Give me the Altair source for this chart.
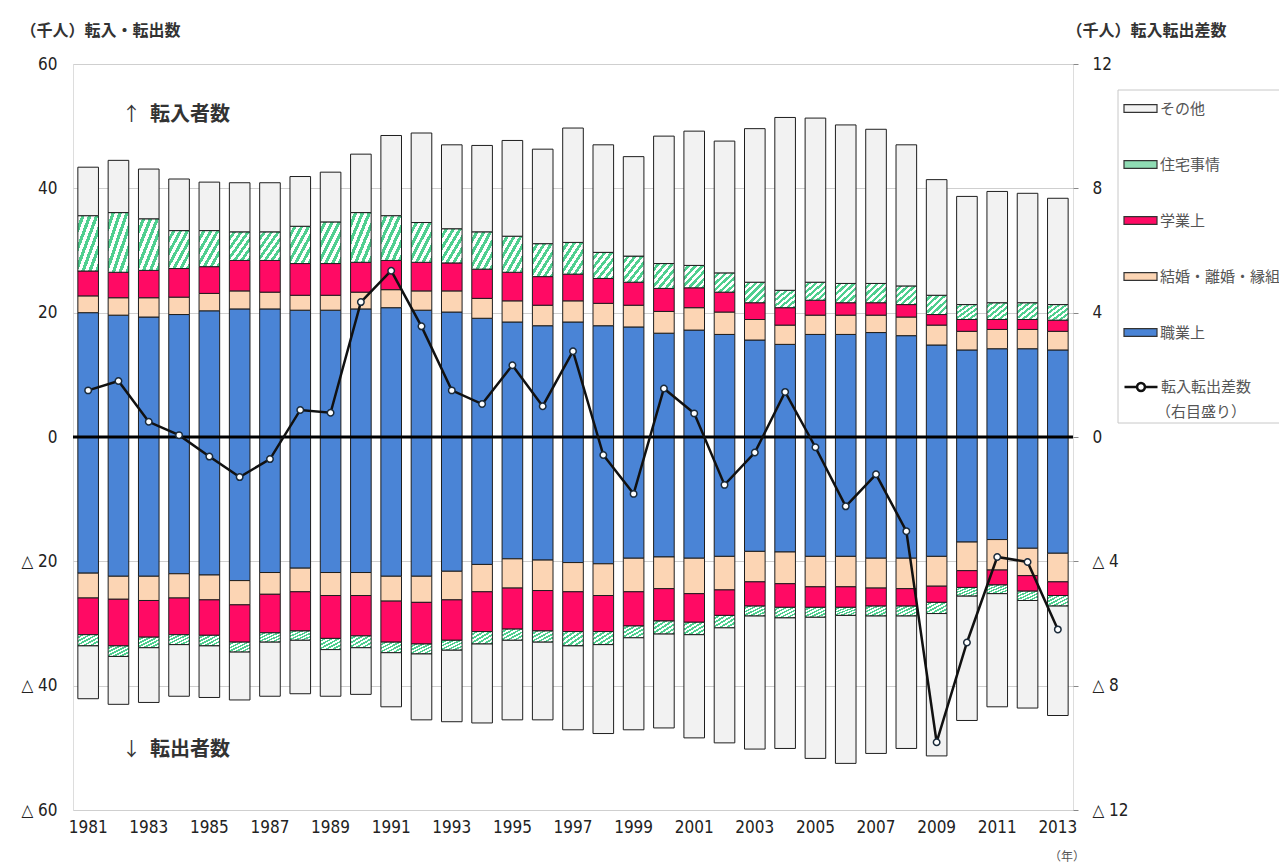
import altair as alt
import pandas as pd

# ---------------- data (thousand persons) ----------------
years = list(range(1981, 2014))
cats = ["職業上", "結婚・離婚・縁組", "学業上", "住宅事情", "その他"]  # stacking order from zero
legend_order = ["その他", "住宅事情", "学業上", "結婚・離婚・縁組", "職業上"]

in_job = [20.0, 19.6, 19.3, 19.7, 20.3, 20.6, 20.6, 20.4, 20.4, 20.6, 20.8, 20.4, 20.1, 19.1, 18.5, 17.9, 18.5,
          17.9, 17.7, 16.7, 17.2, 16.5, 15.6, 14.9, 16.5, 16.5, 16.8, 16.3, 14.8, 14.0, 14.2, 14.2, 14.0]
in_marr = [2.7, 2.8, 3.1, 2.8, 2.8, 2.9, 2.7, 2.4, 2.4, 2.7, 2.9, 3.1, 3.4, 3.2, 3.4, 3.3, 3.4,
           3.6, 3.5, 3.5, 3.6, 3.6, 3.3, 3.1, 3.1, 3.1, 2.8, 3.0, 3.2, 3.0, 3.1, 3.1, 3.0]
in_study = [4.0, 4.1, 4.4, 4.6, 4.3, 4.9, 5.1, 5.1, 5.1, 4.8, 4.7, 4.6, 4.5, 4.7, 4.6, 4.6, 4.3,
            4.0, 3.7, 3.7, 3.2, 3.2, 2.7, 2.8, 2.4, 2.0, 2.0, 2.0, 1.7, 1.9, 1.6, 1.6, 1.8]
in_house = [8.9, 9.6, 8.3, 6.1, 5.8, 4.6, 4.6, 6.0, 6.7, 8.0, 7.2, 6.4, 5.5, 6.0, 5.8, 5.3, 5.1,
            4.2, 4.2, 4.0, 3.6, 3.1, 3.3, 2.8, 2.9, 3.1, 3.1, 3.0, 3.1, 2.4, 2.7, 2.7, 2.5]
in_other = [7.8, 8.4, 8.0, 8.3, 7.8, 7.9, 7.9, 8.0, 8.0, 9.4, 12.9, 14.4, 13.5, 13.9, 15.4, 15.2, 18.4,
            17.3, 16.0, 20.5, 21.6, 21.2, 24.7, 27.8, 26.4, 25.5, 24.8, 22.7, 18.6, 17.4, 17.9, 17.6, 17.1]

out_job = [21.9, 22.4, 22.4, 22.0, 22.2, 23.1, 21.8, 21.1, 21.8, 21.8, 22.4, 22.4, 21.6, 20.5, 19.6, 19.8, 20.2,
           20.4, 19.5, 19.3, 19.5, 19.2, 18.4, 18.5, 19.2, 19.2, 19.5, 19.5, 19.2, 16.9, 16.5, 17.9, 18.7]
out_marr = [4.0, 3.7, 3.9, 3.9, 4.0, 3.9, 3.5, 3.8, 3.7, 3.7, 4.0, 4.2, 4.6, 4.4, 4.7, 4.9, 4.7,
            5.1, 5.4, 5.1, 5.7, 5.4, 4.9, 5.1, 4.9, 4.9, 4.8, 4.9, 4.8, 4.6, 4.9, 4.4, 4.6]
out_study = [5.9, 7.5, 5.9, 5.9, 5.7, 6.0, 6.2, 6.3, 6.9, 6.5, 6.6, 6.7, 6.5, 6.4, 6.6, 6.5, 6.4,
             5.8, 5.5, 5.2, 4.6, 4.1, 3.9, 3.8, 3.3, 3.3, 2.9, 2.8, 2.6, 2.7, 2.4, 2.5, 2.2]
out_house = [1.8, 1.7, 1.7, 1.6, 1.7, 1.6, 1.5, 1.5, 1.8, 1.9, 1.7, 1.6, 1.6, 2.0, 1.8, 1.8, 2.3,
             2.1, 1.9, 2.1, 2.0, 2.0, 1.6, 1.7, 1.6, 1.3, 1.6, 1.6, 1.8, 1.4, 1.4, 1.5, 1.7]
out_other = [8.5, 7.7, 8.8, 8.3, 8.3, 7.7, 8.7, 8.6, 7.5, 7.5, 8.7, 10.6, 11.5, 12.7, 12.8, 12.5, 13.5,
             14.3, 14.8, 15.1, 16.6, 18.5, 21.4, 21.0, 22.7, 23.8, 22.1, 21.3, 22.9, 20.0, 18.2, 17.3, 17.6]

net = [1.5, 1.8, 0.49, 0.06, -0.63, -1.29, -0.71, 0.87, 0.78, 4.34, 5.35, 3.56, 1.5, 1.06, 2.31, 0.99, 2.76,
       -0.58, -1.83, 1.56, 0.76, -1.54, -0.5, 1.45, -0.33, -2.23, -1.2, -3.03, -9.82, -6.61, -3.86, -4.02, -6.19]

left_ticks = [-60, -40, -20, 0, 20, 40, 60]
right_ticks = [-12, -8, -4, 0, 4, 8, 12]
year_labels = [y for y in years if y % 2 == 1]

# ---------------- tables ----------------
in_series = [in_job, in_marr, in_study, in_house, in_other]
out_series = [out_job, out_marr, out_study, out_house, out_other]
rows = []
for k, c in enumerate(cats):
    for i, y in enumerate(years):
        rows.append({"year": y, "cat": c, "ord": k, "value": in_series[k][i]})
        rows.append({"year": y, "cat": c, "ord": k, "value": -out_series[k][i]})
bars_df = pd.DataFrame(rows)
net_df = pd.DataFrame({"year": years, "net": net})

# ---------------- styling ----------------
FONT_JP = "Noto Sans CJK JP"
FONT_NUM = "Liberation Sans Narrow, DejaVu Sans Condensed, Liberation Sans, sans-serif"
colors = {"その他": "#f2f2f2", "住宅事情": "#8fdcb4", "学業上": "#ff0a64",
          "結婚・離婚・縁組": "#fcd5b4", "職業上": "#4a84d6"}

n_str = 6
stops = []
for i in range(n_str):
    a = i / n_str
    b = (i + 0.5) / n_str
    c = (i + 1) / n_str
    stops += [{"offset": a, "color": "#ffffff"}, {"offset": b, "color": "#ffffff"},
              {"offset": b, "color": "#4fcf8f"}, {"offset": c, "color": "#4fcf8f"}]
hatch = {"gradient": "linear", "x1": 0, "y1": 0, "x2": 1, "y2": 1, "stops": stops}

num_label = "datum.value < 0 ? '△ ' + format(-datum.value, 'd') : format(datum.value, 'd')"

x_enc = alt.X("year:O",
              scale=alt.Scale(paddingInner=0.32, paddingOuter=0.16),
              axis=alt.Axis(title=None, values=year_labels, labelAngle=0, ticks=False, domain=False,
                            labelFont=FONT_NUM, labelFontSize=17, labelColor="#222", labelPadding=9,
                            grid=False))

bars = alt.Chart(bars_df).mark_bar(stroke="#1e1e1e", strokeWidth=1).encode(
    x=x_enc,
    y=alt.Y("value:Q", stack="zero",
            scale=alt.Scale(domain=[-60, 60], nice=False),
            axis=alt.Axis(values=left_ticks, ticks=False, domain=False, grid=True,
                          gridColor="#cfcfcf", gridWidth=1, labelExpr=num_label,
                          labelFont=FONT_NUM, labelFontSize=17, labelColor="#222", labelPadding=16,
                          title="（千人）転入・転出数", titleAngle=0, titleX=-53, titleY=-34,
                          titleAlign="left", titleBaseline="middle", titleFont=FONT_JP,
                          titleFontSize=16, titleFontWeight="bold", titleColor="#333")),
    fill=alt.condition("datum.cat === '住宅事情'", alt.value(hatch),
                       alt.Fill("cat:N",
                                scale=alt.Scale(domain=legend_order, range=[colors[c] for c in legend_order]),
                                legend=alt.Legend(title=None, orient="none", legendX=1050, legendY=27,
                                                  symbolType="M-1,-0.23H1V0.23H-1Z", symbolSize=1089,
                                                  symbolStrokeColor="#333", symbolStrokeWidth=1.2,
                                                  symbolOpacity=1,
                                                  labelFont=FONT_JP, labelFontSize=15, labelColor="#555",
                                                  rowPadding=30, padding=0, labelOffset=2,
                                                  labelLimit=200))),
    order=alt.Order("ord:Q"),
)

zero = alt.Chart(pd.DataFrame({"z": [0]})).mark_rule(color="#000000", strokeWidth=3).encode(
    y=alt.Y("z:Q"))

left_layer = alt.layer(bars, zero)

line_legend_path = "M-1,0H-0.24M0.24,0H1M-0.24,0A0.24,0.24,0,1,1,0.24,0A0.24,0.24,0,1,1,-0.24,0"

line = alt.Chart(net_df).transform_calculate(lab="'転入転出差数'").mark_line(strokeWidth=2.5).encode(
    x=alt.X("year:O"),
    y=alt.Y("net:Q", scale=alt.Scale(domain=[-12, 12], nice=False),
            axis=alt.Axis(orient="right", values=right_ticks, ticks=True, tickSize=5, tickColor="#888",
                          domain=False, grid=False, labelExpr=num_label,
                          labelFont=FONT_NUM, labelFontSize=17, labelColor="#222", labelPadding=14,
                          title="（千人）転入転出差数", titleAngle=0, titleX=-7, titleY=-34,
                          titleAlign="left", titleBaseline="middle", titleFont=FONT_JP,
                          titleFontSize=16, titleFontWeight="bold", titleColor="#333")),
    stroke=alt.Stroke("lab:N", scale=alt.Scale(domain=["転入転出差数"], range=["#111111"]),
                      legend=alt.Legend(title=None, orient="none", legendX=1050, legendY=305,
                                        symbolType=line_legend_path, symbolSize=1089,
                                        symbolStrokeWidth=2.5, symbolFillColor="white",
                                        labelFont=FONT_JP, labelFontSize=15, labelColor="#555",
                                        padding=0, labelOffset=2)),
)
points = alt.Chart(net_df).mark_point(filled=True, fill="white", stroke="#1a2a3a", strokeWidth=1.5,
                                      size=42, opacity=1).encode(
    x=alt.X("year:O"),
    y=alt.Y("net:Q"),
)
right_layer = alt.layer(line, points)

one = pd.DataFrame({"a": [0]})
frame = alt.Chart(one).mark_rect(fillOpacity=0, stroke="#c8c8c8", strokeWidth=1).encode(
    x=alt.value(1045), x2=alt.value(1400), y=alt.value(26), y2=alt.value(359))


def label(txt, x, y, size=15, color="#333", align="left", font=FONT_JP, weight="normal"):
    return alt.Chart(pd.DataFrame({"t": [txt]})).mark_text(
        align=align, baseline="middle", font=font, fontSize=size, color=color, fontWeight=weight
    ).encode(x=alt.value(x), y=alt.value(y), text="t:N")


texts = [
    label("↑", 49, 51, size=19, color="#333"),
    label("転入者数", 77, 51, size=20, color="#333", weight="bold"),
    label("↓", 49, 686, size=19, color="#333"),
    label("転出者数", 77, 686, size=20, color="#333", weight="bold"),
    label("（右目盛り）", 1083, 348, size=15, color="#555"),
    label("（年）", 994, 793, size=12, color="#555", align="center"),
]

chart = alt.layer(frame, left_layer, right_layer, *texts).resolve_scale(y="independent").properties(
    width=1000, height=746,
    autosize=alt.AutoSizeParams(type="none"),
    padding={"left": 65, "top": 56, "right": 206, "bottom": 55},
).configure_view(stroke="#bdbdbd", strokeWidth=1.2).configure(background="white")

chart.save("out.html", embed_options={"renderer": "svg", "actions": False})
